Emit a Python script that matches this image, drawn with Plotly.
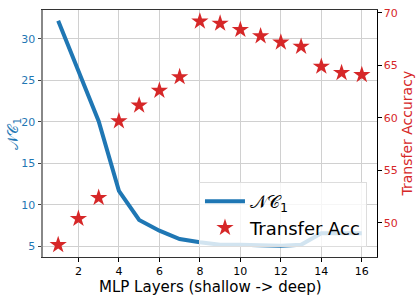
import plotly.graph_objects as go

layers = list(range(1, 17))
nc1 = [32.2, 26.0, 20.1, 11.7, 8.2, 6.9, 5.9, 5.5, 5.2, 5.2, 5.1, 5.1, 5.2, 6.6, 6.6, 6.6]
transfer_acc = [47.9, 50.4, 52.4, 59.7, 61.2, 62.6, 63.9, 69.2, 69.0, 68.4, 67.8, 67.2, 66.8, 64.9, 64.3, 64.1]

blue = "#1f77b4"
red = "#d62728"
font = "DejaVu Sans"

fig = go.Figure()
fig.add_trace(go.Scatter(x=layers, y=nc1, mode="lines", name="𝒩𝒞<sub>1</sub>",
                         line=dict(color=blue, width=4), yaxis="y"))
fig.add_trace(go.Scatter(x=layers, y=transfer_acc, mode="markers", name="Transfer Acc",
                         marker=dict(symbol="star", size=13, color=red, line=dict(width=0)),
                         yaxis="y2"))

fig.update_layout(
    width=420, height=296,
    margin=dict(l=43, r=43, t=7, b=39),
    paper_bgcolor="white", plot_bgcolor="white",
    font=dict(family=font, size=11, color="black"),
    xaxis=dict(range=[0.25, 16.75], dtick=2, tick0=0, showgrid=True, gridcolor="#d0d0d0",
               gridwidth=1, ticks="outside", ticklen=3.5, tickcolor="black",
               showline=True, linecolor="#333333", linewidth=1, mirror=True, zeroline=False,
               tickfont=dict(size=11, color="black")),
    yaxis=dict(range=[3.73, 33.49], dtick=5, tick0=0, showgrid=True, gridcolor="#d0d0d0",
               ticks="outside", ticklen=3.5, tickcolor="#444444",
               showline=True, linecolor="#888888", linewidth=2, zeroline=False,
               tickfont=dict(size=11, color=blue)),
    yaxis2=dict(range=[46.75, 70.28], dtick=5, tick0=0, overlaying="y", side="right",
                showgrid=False, ticks="outside", ticklen=3.5, tickcolor="black",
                showline=True, linecolor="black", linewidth=1, zeroline=False,
                tickfont=dict(size=11, color=red)),
    legend=dict(x=0.97, y=0.04, xanchor="right", yanchor="bottom",
                bgcolor="rgba(255,255,255,0.8)", bordercolor="#dddddd", borderwidth=1,
                font=dict(size=18, color="black"), itemwidth=40),
    showlegend=True,
    annotations=[
        dict(text="MLP Layers (shallow -> deep)", xref="paper", yref="paper",
             x=0.5, y=-0.12, xanchor="center", yanchor="middle", showarrow=False,
             font=dict(size=15, color="black")),
        dict(text="𝒩𝒞<sub>1</sub>", xref="paper", yref="paper",
             x=-0.0898, y=0.5, xanchor="center", yanchor="middle", showarrow=False,
             textangle=-90, font=dict(size=15, color=blue)),
        dict(text="Transfer Accuracy", xref="paper", yref="paper",
             x=1.0898, y=0.5, xanchor="center", yanchor="middle", showarrow=False,
             textangle=-90, font=dict(size=14, color=red)),
    ],
)

fig.write_html("out.html", config={"displayModeBar": False},
               post_script="document.body.style.margin='0';document.body.style.overflow='hidden';")
